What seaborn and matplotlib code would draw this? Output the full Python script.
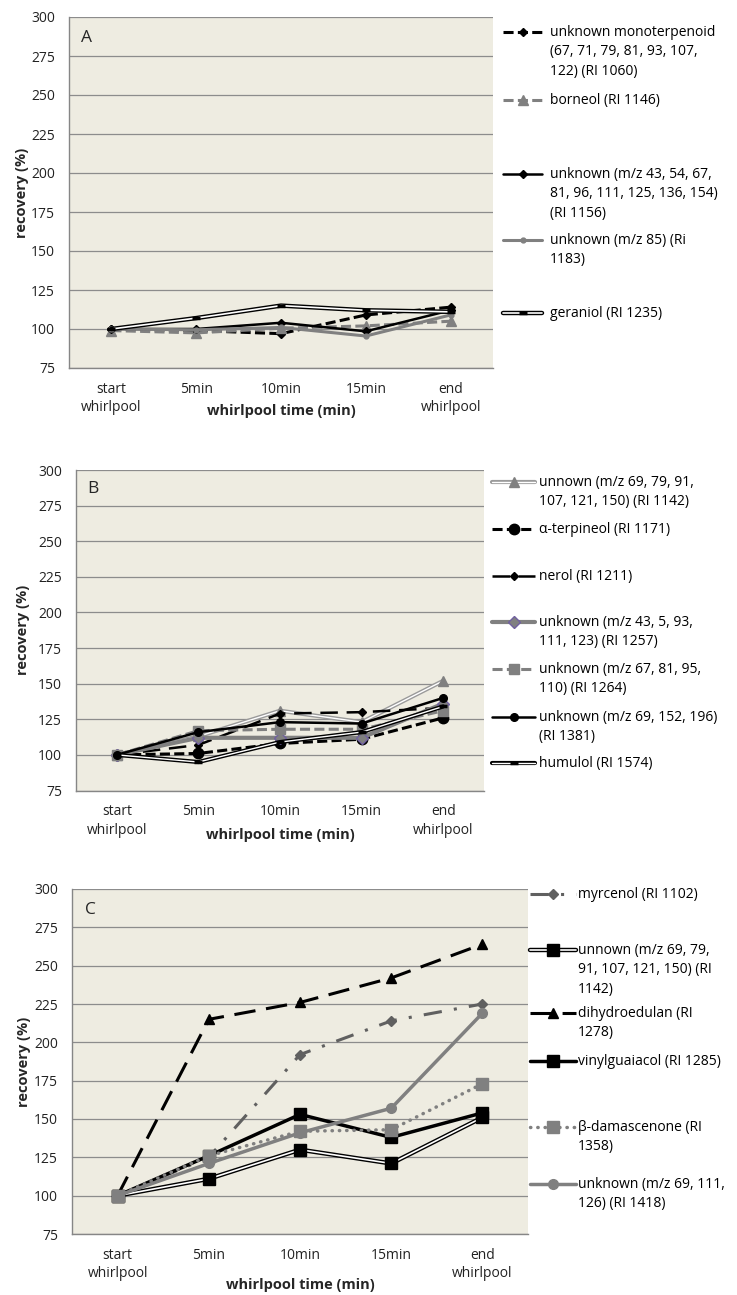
import matplotlib
matplotlib.use("Agg")
import matplotlib.pyplot as plt
import seaborn as sns
import pandas as pd
from matplotlib.lines import Line2D

# x categories
times = ["start\nwhirlpool", "5min", "10min", "15min", "end\nwhirlpool"]
yticks = [75, 100, 125, 150, 175, 200, 225, 250, 275, 300]

# panel A
a_labels = [
    "unknown monoterpenoid\n(67, 71, 79, 81, 93, 107,\n122) (RI 1060)",
    "borneol (RI 1146)",
    "unknown (m/z 43, 54, 67,\n81, 96, 111, 125, 136, 154)\n(RI 1156)",
    "unknown (m/z 85) (Ri\n1183)",
    "geraniol (RI 1235)",
]
a_monoterpenoid = [100, 99, 97, 109, 114]
a_borneol = [99, 97.5, 100.5, 102, 105]
a_u1156 = [100, 100, 104, 98.5, 112]
a_u1183 = [100, 99.5, 101, 95.5, 109]
a_geraniol = [100, 107, 115, 112, 111]

# panel B
b_labels = [
    "unnown (m/z 69, 79, 91,\n107, 121, 150) (RI 1142)",
    "α-terpineol (RI 1171)",
    "nerol (RI 1211)",
    "unknown (m/z 43, 5, 93,\n111, 123) (RI 1257)",
    "unknown (m/z 67, 81, 95,\n110) (RI 1264)",
    "unknown (m/z 69, 152, 196)\n(RI 1381)",
    "humulol (RI 1574)",
]
b_u1142 = [100, 113, 131, 123, 152]
b_aterpineol = [100, 101, 108, 111, 126]
b_nerol = [100, 107, 129, 130, 133]
b_u1257 = [100, 112, 112, 112, 136]
b_u1264 = [100, 117, 118, 118, 131]
b_u1381 = [100, 116, 123, 122, 140]
b_humulol = [100, 95, 109, 116, 134]

# panel C
c_labels = [
    "myrcenol (RI 1102)",
    "unnown (m/z 69, 79,\n91, 107, 121, 150) (RI\n1142)",
    "dihydroedulan (RI\n1278)",
    "vinylguaiacol (RI 1285)",
    "β-damascenone (RI\n1358)",
    "unknown (m/z 69, 111,\n126) (RI 1418)",
]
c_myrcenol = [100, 125, 192, 214, 225]
c_u1142 = [100, 111, 130, 121, 151]
c_dihydroedulan = [100, 215, 226, 242, 264]
c_vinylguaiacol = [100, 126, 153, 138, 154]
c_damascenone = [100, 126, 142, 143, 173]
c_u1418 = [100, 121, 141, 157, 219]

GREY = "#808080"
DASH = (0, (3.3, 1.4))
LONG = (0, (7, 3.5))

a_styles = [
    dict(color="black", lw=2.2, ls=DASH, marker="D", ms=4),
    dict(color=GREY, lw=2.2, ls=DASH, marker="^", ms=6.5),
    dict(color="black", lw=1.8, ls="-", marker="D", ms=4),
    dict(color=GREY, lw=2.2, ls="-", marker="o", ms=3.5),
    dict(color="black", lw=3.2, inner=1.2, marker="_", ms=6, mew=2.5),
]
b_styles = [
    dict(color="#9a9a9a", lw=3.0, inner=1.0, marker="^", ms=6.5, mfc=GREY),
    dict(color="black", lw=2.2, ls=DASH, marker="o", ms=7.5),
    dict(color="black", lw=1.8, ls=LONG, marker="D", ms=4.5),
    dict(color=GREY, lw=3.0, ls="-", marker="D", ms=6.5, mec="#7060a0"),
    dict(color=GREY, lw=2.2, ls=DASH, marker="s", ms=6.5),
    dict(color="black", lw=1.8, ls="-", marker="o", ms=5.5),
    dict(color="black", lw=3.0, inner=1.0, marker="_", ms=6, mew=2.5),
]
c_styles = [
    dict(color="#606060", lw=2.2, ls=(0, (6, 4, 1, 4)), marker="D", ms=5.5),
    dict(color="black", lw=3.2, inner=1.2, marker="s", ms=8.5),
    dict(color="black", lw=2.2, ls=LONG, marker="^", ms=7),
    dict(color="black", lw=2.5, ls="-", marker="s", ms=8.5),
    dict(color=GREY, lw=2.5, ls=(0, (0.1, 2)), marker="s", ms=8, cap="round"),
    dict(color=GREY, lw=2.5, ls="-", marker="o", ms=7),
]

FS = 10

sns.set_style("white", rc={"axes.facecolor": "#EEECE1"})
plt.rcParams["font.family"] = ["Open Sans", "DejaVu Sans"]

W, H = 737, 1295
fig = plt.figure(figsize=(W / 100, H / 100), dpi=100)


def px_axes(left, top, right, bottom):
    return fig.add_axes([left / W, 1 - bottom / H, (right - left) / W, (bottom - top) / H])


def marker_kws(st):
    col = st.get("mfc", st["color"])
    return dict(marker=st["marker"], ms=st["ms"], mfc=col,
                mec=st.get("mec", col), mew=st.get("mew", 1))


def draw_series(ax, values, st):
    df = pd.DataFrame({"time": times, "recovery": values})
    if "inner" in st:
        sns.lineplot(data=df, x="time", y="recovery", ax=ax, sort=False,
                     color=st["color"], lw=st["lw"])
        sns.lineplot(data=df, x="time", y="recovery", ax=ax, sort=False,
                     color="white", lw=st["inner"], **marker_kws(st))
    else:
        sns.lineplot(data=df, x="time", y="recovery", ax=ax, sort=False,
                     color=st["color"], lw=st["lw"], linestyle=st["ls"],
                     dash_capstyle=st.get("cap", "butt"), **marker_kws(st))


def legend_entry(st, x0, x1, y, label, tx):
    Y = 1 - y / H
    xs = [x0 / W, x1 / W]
    if "inner" in st:
        fig.add_artist(Line2D(xs, [Y, Y], color=st["color"], lw=st["lw"]))
        fig.add_artist(Line2D(xs, [Y, Y], color="white", lw=st["inner"]))
    else:
        fig.add_artist(Line2D(xs, [Y, Y], color=st["color"], lw=st["lw"],
                              ls=st["ls"], dash_capstyle=st.get("cap", "butt")))
    fig.add_artist(Line2D([(x0 + x1) / 2 / W], [Y], ls="none", **marker_kws(st)))
    fig.text(tx / W, Y + 7 / H, label, ha="left", va="top", fontsize=FS,
             linespacing=1.4, color="black")


def setup_panel(ax, letter, ylab_x, xlab_y):
    ax.set_xlim(-0.5, 4.5)
    ax.set_ylim(75, 300)
    ax.set_yticks(yticks)
    ax.set_xticks(range(5))
    ax.set_xticklabels(times, fontsize=FS, color="#222222", linespacing=1.3)
    ax.set_xticks([i - 0.5 for i in range(6)], minor=True)
    ax.tick_params(axis="x", which="major", length=0, pad=10)
    ax.tick_params(axis="x", which="minor", length=5, color="#868686", direction="out")
    ax.tick_params(axis="y", length=5, color="#868686", direction="out", pad=5,
                   labelsize=FS, labelcolor="#222222")
    ax.yaxis.grid(True, color="#8c8c8c", lw=0.9)
    ax.set_axisbelow(True)
    for side in ["top", "right"]:
        ax.spines[side].set_visible(False)
    for side in ["left", "bottom"]:
        ax.spines[side].set_color("#868686")
        ax.spines[side].set_linewidth(1.0)
    ax.set_ylabel("recovery (%)", fontsize=10.5, fontweight="bold")
    ax.set_xlabel("whirlpool time (min)", fontsize=10.5, fontweight="bold")
    ax.yaxis.set_label_coords(ylab_x, 0.5)
    ax.xaxis.set_label_coords(0.5, xlab_y)
    ax.xaxis.label.set_va("center")
    ax.yaxis.label.set_va("center")
    ax.text(0.028, 0.94, letter, transform=ax.transAxes, fontsize=12.5,
            ha="left", va="center")


panels = [
    dict(box=(69, 17, 493, 368), letter="A", ylx=-0.111, xly=-0.123,
         data=[a_monoterpenoid, a_borneol, a_u1156, a_u1183, a_geraniol],
         styles=a_styles, labels=a_labels, hx=(503, 542), tx=550,
         ly=[31.7, 100, 174, 240, 313]),
    dict(box=(76, 470, 484, 790.5), letter="B", ylx=-0.131, xly=-0.138,
         data=[b_u1142, b_aterpineol, b_nerol, b_u1257, b_u1264, b_u1381, b_humulol],
         styles=b_styles, labels=b_labels, hx=(492, 535), tx=539,
         ly=[481.7, 529, 575.7, 622, 669, 716.7, 763.3]),
    dict(box=(72, 889, 528, 1234), letter="C", ylx=-0.106, xly=-0.148,
         data=[c_myrcenol, c_u1142, c_dihydroedulan, c_vinylguaiacol, c_damascenone, c_u1418],
         styles=c_styles, labels=c_labels, hx=(530, 576), tx=578,
         ly=[894, 950, 1013, 1060.7, 1127, 1184]),
]

for p in panels:
    ax = px_axes(*p["box"])
    for vals, st in zip(p["data"], p["styles"]):
        draw_series(ax, vals, st)
    setup_panel(ax, p["letter"], p["ylx"], p["xly"])
    for st, lab, y in zip(p["styles"], p["labels"], p["ly"]):
        legend_entry(st, p["hx"][0], p["hx"][1], y, lab, p["tx"])

fig.savefig("out.png", dpi=100)
